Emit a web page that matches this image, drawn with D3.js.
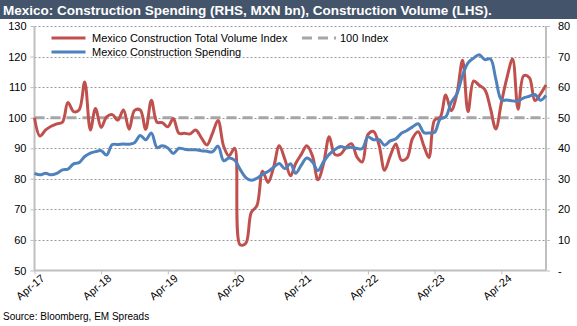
<!DOCTYPE html>
<html>
<head>
<meta charset="utf-8">
<script src="https://cdn.jsdelivr.net/npm/d3@7"></script>
<style>
    html, body { margin: 0; padding: 0; background: #fff; }
    svg { display: block; font-family: "Liberation Sans", Arial, sans-serif; }
</style>
</head>
<body>
<div id="chart"></div>
<script>
// Monthly data, Apr-17 .. Dec-24
var startMonth = new Date(2017, 3, 1),
    endMonth = new Date(2024, 11, 1);

// Construction volume index (LHS)
var volumeIndex = [
    100, 94, 96, 97.2, 98, 98.5, 105, 102, 102.5, 111.7, 96, 103,
    96.8, 100.3, 101, 99.2, 102.5, 96.2, 102.4, 102.5, 96.2, 105.7, 98.5, 98.4,
    97, 99.7, 94.9, 94.9, 94.7, 96, 93.5, 91.1, 94.8, 99.1, 90.6, 87.5,
    90, 58.4, 58.9, 69, 71.2, 82.5, 78.8, 83.9, 90.8, 86.4, 81, 85,
    88, 90.8, 87.5, 79.7, 85, 93.8, 88, 88, 90.2, 91.5, 87, 85.5,
    94.5, 95.5, 91, 82.8, 87.5, 91.4, 86.1, 86.8, 93.2, 95.4, 90.8, 87,
    99.2, 100, 107.4, 102.3, 107.8, 118.8, 102, 112, 110.6, 109.2, 103, 96.3,
    105, 113, 119.2, 102.8, 113.7, 113.1, 105.6, 107.8, 110.7
];

// Construction spending, MXN bn (RHS)
var spending = [
    31.8, 31.3, 31.8, 31.3, 31.8, 32.9, 33.2, 34.9, 35.3, 37.3, 38.4, 38.9,
    39.2, 37.8, 41.2, 41.2, 41.4, 41.3, 41.8, 44.2, 42.8, 45, 40.2, 40.8,
    40.1, 38.3, 40, 39.7, 39.5, 39.5, 39.2, 39, 38.8, 40.7, 35.9, 36.8,
    36.1, 33.1, 30.4, 29.5, 30.2, 31.5, 32.4, 33.8, 35, 33.3, 34.9, 31.8,
    34.5, 36.8, 35.5, 32.7, 35.6, 38, 39.5, 40.6, 40.1, 40.3, 39.9, 39.9,
    43.7, 42.8, 42.8, 41, 42.4, 43.1, 44.9, 45.8, 47, 48, 45.1, 45,
    45.2, 49.5, 50.3, 55, 57.8, 63.8, 67.9, 69.5, 70.6, 69, 69.2, 62.7,
    55.8, 55.8, 55.5, 55.4, 56.5, 57, 57.6, 55.7, 57.3
];

var leftTicks = [50, 60, 70, 80, 90, 100, 110, 120, 130],
    rightTicks = [0, 10, 20, 30, 40, 50, 60, 70, 80],
    indexLevel = 100;

var title = "Mexico: Construction Spending (RHS, MXN bn), Construction Volume (LHS).",
    source = "Source: Bloomberg, EM Spreads",
    seriesNames = ["Mexico Construction Total Volume Index", "Mexico Construction Spending", "100 Index"];

(function () {
    "use strict";

    var width = 577,
        height = 326;

    var red = "#C0504D",
        blue = "#4F81BD",
        grey = "#A6A6A6",
        axisGrey = "#BFBFBF";

    var months = d3.timeMonth.range(startMonth, d3.timeMonth.offset(endMonth, 1));

    var x = d3.scaleTime()
        .domain([startMonth, endMonth])
        .range([34.5, 546]);

    var yLeft = d3.scaleLinear()
        .domain([50, 130])
        .range([270.5, 26]);

    var yRight = d3.scaleLinear()
        .domain([0, 80])
        .range([270.5, 26]);

    var svg = d3.select("#chart").append("svg")
        .attr("width", width)
        .attr("height", height);

    // Title bar
    svg.append("rect")
        .attr("x", 0)
        .attr("y", 0)
        .attr("width", width)
        .attr("height", 19)
        .attr("fill", "#44546A");

    svg.append("text")
        .attr("x", 3)
        .attr("y", 15)
        .attr("fill", "#fff")
        .attr("font-weight", "bold")
        .attr("font-size", "13.5px")
        .text(title);

    // Horizontal gridlines
    svg.append("g")
        .selectAll("line")
        .data(leftTicks.slice(1))
        .enter().append("line")
        .attr("x1", x.range()[0])
        .attr("x2", x.range()[1])
        .attr("y1", function (d) { return Math.round(yLeft(d)) + 0.5; })
        .attr("y2", function (d) { return Math.round(yLeft(d)) + 0.5; })
        .attr("stroke", "#9a9a9a")
        .attr("stroke-width", 1)
        .attr("stroke-dasharray", "2,2");

    // Left axis
    var leftAxis = svg.append("g")
        .attr("transform", "translate(" + x.range()[0] + ",0)")
        .call(d3.axisLeft(yLeft).tickValues(leftTicks).tickSize(4).tickPadding(4));

    // Right axis
    var rightAxis = svg.append("g")
        .attr("transform", "translate(" + x.range()[1] + ",0)")
        .call(d3.axisRight(yRight).tickValues(rightTicks).tickSize(4).tickPadding(8)
            .tickFormat(function (d) { return d === 0 ? "-" : d; }));

    // Bottom axis, one tick per April
    var xTicks = months.filter(function (d) { return d.getMonth() === 3; });
    var bottomAxis = svg.append("g")
        .attr("transform", "translate(0," + yLeft(50) + ")")
        .call(d3.axisBottom(x).tickValues(xTicks).tickSize(4).tickPadding(3)
            .tickFormat(d3.timeFormat("%b-%y")));

    bottomAxis.selectAll("text")
        .attr("text-anchor", "end")
        .attr("dx", "0.2em")
        .attr("dy", "0.6em")
        .attr("transform", "rotate(-40)");

    [leftAxis, rightAxis, bottomAxis].forEach(function (axis) {
        axis.selectAll(".domain")
            .attr("stroke", axisGrey)
            .attr("stroke-width", 2);
        axis.selectAll(".tick line")
            .attr("stroke", axisGrey)
            .attr("stroke-width", 1);
        axis.selectAll("text")
            .attr("font-family", "Liberation Sans, Arial, sans-serif")
            .attr("font-size", "11px")
            .attr("fill", "#000");
    });
    leftAxis.select(".domain").attr("d", "M0," + yLeft(130) + "V" + yLeft(50));
    rightAxis.select(".domain").attr("d", "M0," + yRight(80) + "V" + yRight(0));
    bottomAxis.select(".domain").attr("d", "M" + x.range()[0] + ",0H" + x.range()[1]);

    // 100 index reference
    svg.append("line")
        .attr("x1", x.range()[0])
        .attr("x2", x.range()[1])
        .attr("y1", yLeft(indexLevel))
        .attr("y2", yLeft(indexLevel))
        .attr("stroke", grey)
        .attr("stroke-width", 3)
        .attr("stroke-dasharray", "10,6");

    // smoothed lines without the big overshoot of uniform splines
    var curve = d3.curveCatmullRom.alpha(0.5);

    var volumeLine = d3.line()
        .x(function (d, i) { return x(months[i]); })
        .y(function (d) { return yLeft(d); })
        .curve(curve);

    var spendingLine = d3.line()
        .x(function (d, i) { return x(months[i]); })
        .y(function (d) { return yRight(d); })
        .curve(curve);

    svg.append("path")
        .datum(volumeIndex)
        .attr("d", volumeLine)
        .attr("fill", "none")
        .attr("stroke", red)
        .attr("stroke-width", 3)
        .attr("stroke-linejoin", "round");

    svg.append("path")
        .datum(spending)
        .attr("d", spendingLine)
        .attr("fill", "none")
        .attr("stroke", blue)
        .attr("stroke-width", 3)
        .attr("stroke-linejoin", "round");

    // Legend
    var legendItems = [
        { name: seriesNames[0], color: red, x: 51.5, y: 38, dash: null },
        { name: seriesNames[1], color: blue, x: 51.5, y: 52, dash: null },
        { name: seriesNames[2], color: grey, x: 302, y: 38, dash: "10,6" }
    ];

    var legend = svg.append("g")
        .selectAll("g")
        .data(legendItems)
        .enter().append("g")
        .attr("transform", function (d) { return "translate(" + d.x + "," + d.y + ")"; });

    legend.append("line")
        .attr("x1", 0)
        .attr("x2", 34)
        .attr("stroke", function (d) { return d.color; })
        .attr("stroke-width", 3)
        .attr("stroke-dasharray", function (d) { return d.dash; });

    legend.append("text")
        .attr("x", function (d) { return d.dash ? 38 : 40.5; })
        .attr("dy", "0.35em")
        .attr("font-size", "11px")
        .attr("fill", "#000")
        .text(function (d) { return d.name; });

    svg.append("text")
        .attr("x", 3)
        .attr("y", 320)
        .attr("font-size", "10px")
        .attr("fill", "#000")
        .text(source);
})();
</script>
</body>
</html>
